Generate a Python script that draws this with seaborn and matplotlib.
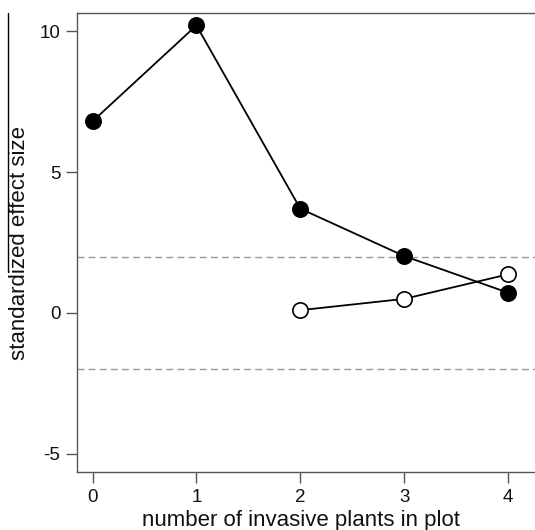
import matplotlib
matplotlib.use("Agg")
import matplotlib.pyplot as plt
import seaborn as sns
import pandas as pd
from matplotlib.lines import Line2D

sns.set_theme(style="ticks")
plt.rcParams['font.family'] = ['Liberation Sans', 'DejaVu Sans']

x_filled = [0, 1, 2, 3, 4]
y_filled = [6.8, 10.2, 3.7, 2.02, 0.72]
x_open = [2, 3, 4]
y_open = [0.1, 0.5, 1.37]
ref_lines = [2, -2]
xticks = [0, 1, 2, 3, 4]
yticks = [-5, 0, 5, 10]

df_f = pd.DataFrame({"x": x_filled, "y": y_filled})
df_o = pd.DataFrame({"x": x_open, "y": y_open})

fig = plt.figure(figsize=(5.35, 5.3), dpi=100)
ax = fig.add_axes([77/535, 58/530, 1 - 77/535, (472-13)/530])

for yv in ref_lines:
    ax.axhline(yv, color="#999999", lw=1.0, ls=(0, (5, 3)), zorder=1)

sns.lineplot(data=df_f, x="x", y="y", ax=ax, color="black", lw=1.3,
             marker="o", markersize=11, markerfacecolor="black",
             markeredgecolor="black", markeredgewidth=1.2, zorder=3)
sns.lineplot(data=df_o, x="x", y="y", ax=ax, color="black", lw=1.3,
             marker="o", markersize=11, markerfacecolor="white",
             markeredgecolor="black", markeredgewidth=1.2, zorder=3)

ax.set_xlim(-0.15, 4.26)
ax.set_ylim(-5.64, 10.64)
ax.set_xticks(xticks)
ax.set_yticks(yticks)
ax.set_xticklabels([str(v) for v in xticks])
ax.set_yticklabels([str(v) for v in yticks])
ax.tick_params(axis="both", labelsize=13.5, length=8, width=1, color="#555555",
               labelcolor="#111111", pad=4)
ax.set_xlabel("number of invasive plants in plot", fontsize=16, color="#111111",
              va="baseline")
ax.xaxis.set_label_coords(0.49, (472 - 526) / 459)
ax.set_ylabel("standardized effect size", fontsize=16, color="#111111", va="center")
ax.yaxis.set_label_coords((20 - 77) / 458, 0.5)

for s in ["left", "bottom", "top"]:
    ax.spines[s].set_color("#555555")
    ax.spines[s].set_linewidth(1.0)
ax.spines["right"].set_visible(False)

fig.add_artist(Line2D([8/535, 8/535], [1 - 13/530, 1 - 272/530], color="black", lw=1.0,
                      transform=fig.transFigure))

fig.savefig("out.png", dpi=100)
